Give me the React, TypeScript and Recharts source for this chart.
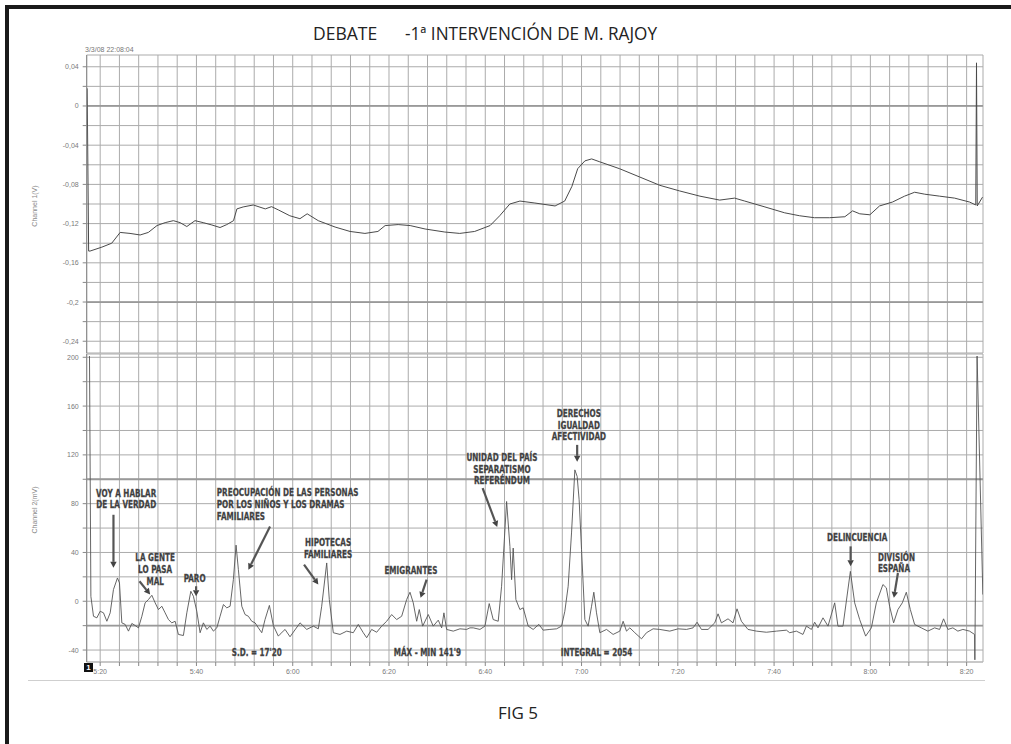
import React from 'react';
import { LineChart, Line, XAxis, YAxis, CartesianGrid, ReferenceLine, ReferenceDot } from 'recharts';

// ---------- DATA ----------
// time in seconds (5:20 = 320 s)
const ch1Time = [317.3, 317.6, 317.9, 320.35, 322.4, 324.15, 326.2, 328.3, 330.0, 331.8, 333.5, 335.2, 336.6, 338.0, 339.7, 341.4, 343.2, 344.9, 346.3, 347.7, 348.4, 349.7, 351.8, 354.3, 355.6, 357.0, 359.4, 361.5, 363.0, 365.3, 368.8, 371.9, 375.0, 377.7, 379.2, 381.9, 384.4, 387.5, 391.6, 394.7, 397.8, 401.0, 403.0, 405.1, 407.2, 410.3, 414.5, 416.5, 418.0, 419.2, 420.7, 422.1, 423.8, 427.9, 432.1, 436.3, 440.4, 444.6, 448.7, 451.8, 453.9, 458.1, 462.2, 465.3, 468.4, 471.5, 474.7, 476.3, 477.8, 479.9, 481.9, 484.6, 487.1, 489.2, 491.3, 494.4, 497.5, 500.6, 501.9, 502.05, 502.2, 503.3];
const ch1Volt = [0.018, -0.148, -0.148, -0.144, -0.14, -0.129, -0.13, -0.1316, -0.129, -0.122, -0.119, -0.117, -0.119, -0.123, -0.117, -0.119, -0.1214, -0.124, -0.121, -0.117, -0.105, -0.103, -0.101, -0.105, -0.1027, -0.106, -0.112, -0.115, -0.11, -0.117, -0.1235, -0.128, -0.13, -0.128, -0.122, -0.121, -0.122, -0.1255, -0.1286, -0.13, -0.128, -0.122, -0.112, -0.1, -0.097, -0.099, -0.102, -0.097, -0.082, -0.064, -0.056, -0.054, -0.057, -0.064, -0.0725, -0.081, -0.0867, -0.092, -0.096, -0.094, -0.097, -0.103, -0.109, -0.112, -0.114, -0.114, -0.113, -0.107, -0.11, -0.111, -0.102, -0.098, -0.092, -0.088, -0.09, -0.092, -0.094, -0.098, -0.101, 0.044, -0.102, -0.093];

const ch2Time = [317.78, 318.07, 318.61, 319.31, 320.0, 320.69, 321.39, 322.08, 322.76, 323.59, 324.01, 324.5, 325.19, 325.88, 326.58, 327.27, 327.95, 328.66, 329.34, 330.03, 330.73, 331.42, 332.1, 332.81, 333.49, 334.18, 334.88, 335.57, 336.25, 337.29, 338.0, 338.83, 339.37, 340.07, 340.76, 341.44, 342.15, 342.84, 343.52, 344.23, 344.91, 345.6, 346.3, 346.99, 347.67, 348.23, 348.71, 349.42, 350.1, 350.79, 351.49, 352.18, 352.86, 353.57, 354.25, 355.15, 355.98, 357.01, 357.37, 358.41, 359.44, 361.52, 362.91, 364.28, 365.32, 366.02, 367.06, 367.6, 368.43, 369.82, 371.22, 372.58, 373.62, 374.66, 375.36, 376.4, 377.44, 378.48, 379.52, 380.56, 381.59, 382.63, 383.67, 384.36, 385.04, 385.75, 386.29, 386.99, 388.16, 389.19, 390.23, 390.94, 391.41, 391.97, 393.35, 394.74, 396.13, 396.81, 397.5, 398.89, 399.93, 400.82, 401.65, 402.69, 403.39, 404.43, 405.12, 405.47, 405.8, 406.36, 407.19, 407.88, 408.92, 409.95, 411.14, 412.03, 413.42, 414.81, 415.85, 416.53, 417.22, 417.92, 418.61, 419.09, 419.5, 420.0, 420.69, 421.37, 422.08, 422.55, 423.11, 423.8, 425.19, 426.56, 427.95, 428.64, 429.34, 430.03, 431.07, 432.46, 433.49, 434.87, 436.26, 438.33, 440.06, 441.8, 443.17, 444.0, 444.91, 446.28, 447.67, 448.36, 449.06, 450.43, 451.47, 452.3, 453.21, 454.58, 456.33, 458.4, 460.48, 462.56, 463.24, 464.63, 466.0, 466.71, 467.75, 468.43, 469.12, 470.16, 471.2, 472.59, 473.27, 474.31, 475.85, 476.74, 477.78, 479.02, 480.21, 481.24, 482.61, 483.32, 484.0, 484.83, 485.73, 486.64, 487.47, 488.3, 489.19, 490.58, 491.95, 493.35, 494.38, 495.21, 496.11, 497.14, 498.18, 499.22, 500.61, 501.65, 501.71, 502.17, 503.37];
const ch2MilliVolt = [201, 4, -12.3, -13.6, -8.2, -9.5, -16.4, -9.5, 9.6, 19.1, 15, -17.7, -19, -24.5, -18.2, -19.9, -21.8, -12.3, -1.3, 1.4, 4.9, -1.3, -6.8, -4.1, -9.5, -15, -17.7, -16.4, -27.2, -28.1, -9.5, 8.2, 4.1, -8.2, -25.8, -17.7, -23.1, -20.4, -24.5, -21.8, -12.3, -2.7, -5.4, -4.1, 17.7, 46, 25.9, -4.1, -10.9, -12.3, -16.4, -17.7, -21.8, -25.8, -15, -3.4, -20, -28.6, -27, -23.1, -29.1, -17.7, -23.1, -20.4, -22.6, -4.1, 31.4, 1.4, -25.8, -27.2, -24.5, -25.8, -19, -25.8, -29.9, -23.1, -25.4, -20.4, -16.4, -10.9, -15, -12.3, 1.4, 7.4, -1.3, -16.4, -6.8, -20.4, -10.9, -20.4, -15.5, -21.8, -9.5, -23.1, -24.5, -22.6, -23.1, -21.8, -21.8, -23.1, -20.4, -1.9, -15, -16.4, 12.3, 81.8, 45, 17.7, 43.6, 1.4, -6.8, -5.4, -20.4, -23.1, -19, -23.7, -23.1, -22.6, -20.4, -8.2, 12.3, 56, 107.7, 102.3, 83.2, 42.3, -15, -20.4, -4.1, 7.4, -9.5, -25.8, -23.1, -27.2, -24.5, -16.4, -24.5, -21.8, -25.8, -30.8, -25.8, -22.6, -23.1, -24.5, -22.6, -23.1, -21.8, -17.2, -23.1, -23.1, -17.7, -10.3, -17.7, -14.4, -17.7, -6.2, -16.4, -23.1, -24.5, -25.4, -24.5, -23.7, -25.8, -24.5, -27.2, -20.4, -23.1, -17.2, -21.8, -13.6, -20.4, -1.3, -20.4, -20.4, 24.5, -1.3, -15, -28.6, -21.8, -1.3, 13.7, 11, -4.1, -17.7, -6.8, -1.3, 7.4, -6.8, -19, -21.8, -24.5, -21.8, -23.1, -14.4, -23.1, -21.8, -24.5, -23.1, -24.5, -27.2, -48, 201, 5.5];

const xMajorTicks = [320, 340, 360, 380, 400, 420, 440, 460, 480, 500];
const xMajorLabels = ['5:20', '5:40', '6:00', '6:20', '6:40', '7:00', '7:20', '7:40', '8:00', '8:20'];
const ch1Ticks = [0.04, 0.02, 0, -0.02, -0.04, -0.06, -0.08, -0.1, -0.12, -0.14, -0.16, -0.18, -0.2, -0.22, -0.24];
const ch1TickLabels = ['0,04', '', '0', '', '-0,04', '', '-0,08', '', '-0,12', '', '-0,16', '', '-0,2', '', '-0,24'];
const ch2Ticks = [200, 180, 160, 140, 120, 100, 80, 60, 40, 20, 0, -20, -40];
const ch2TickLabels = ['200', '', '160', '', '120', '', '80', '', '40', '', '0', '', '-40'];

type Ann = { t: number; v: number; lines: string[]; anchor: 'start' | 'middle' };
const annotations: Ann[] = [
  { t: 325.4, v: 88.9, lines: ['VOY A HABLAR', 'DE LA VERDAD'], anchor: 'middle' },
  { t: 331.42, v: 35.7, lines: ['LA GENTE', 'LO PASA', 'MAL'], anchor: 'middle' },
  { t: 339.62, v: 18.6, lines: ['PARO'], anchor: 'middle' },
  { t: 344.23, v: 89.2, lines: ['PREOCUPACIÓN DE LAS PERSONAS', 'POR LOS NIÑOS Y LOS DRAMAS', 'FAMILIARES'], anchor: 'start' },
  { t: 367.33, v: 48.3, lines: ['HIPOTECAS', 'FAMILIARES'], anchor: 'middle' },
  { t: 384.56, v: 25.4, lines: ['EMIGRANTES'], anchor: 'middle' },
  { t: 403.46, v: 118.1, lines: ['UNIDAD DEL PAÍS', 'SEPARATISMO', 'REFERÉNDUM'], anchor: 'middle' },
  { t: 419.44, v: 154.1, lines: ['DERECHOS', 'IGUALDAD', 'AFECTIVIDAD'], anchor: 'middle' },
  { t: 477.26, v: 52.7, lines: ['DELINCUENCIA'], anchor: 'middle' },
  { t: 481.57, v: 36.3, lines: ['DIVISIÓN', 'ESPAÑA'], anchor: 'start' },
  { t: 352.53, v: -41.4, lines: ["S.D. = 17'20"], anchor: 'middle' },
  { t: 387.99, v: -41.4, lines: ["MÁX - MIN 141'9"], anchor: 'middle' },
  { t: 423.11, v: -41.4, lines: ['INTEGRAL = 2054'], anchor: 'middle' },
];

const arrows = [
  { t1: 322.76, v1: 70.9, t2: 322.76, v2: 27.4 },
  { t1: 328.16, v1: 16.4, t2: 330.38, v2: 5.5 },
  { t1: 339.93, v1: 12.3, t2: 339.93, v2: 4.1 },
  { t1: 355.29, v1: 61.3, t2: 350.79, v2: 25.9 },
  { t1: 362.35, v1: 30, t2: 365.32, v2: 13.7 },
  { t1: 387.82, v1: 17.8, t2: 386.56, v2: 2.8 },
  { t1: 399.45, v1: 92.8, t2: 402.48, v2: 60.9 },
  { t1: 419.09, v1: 128.2, t2: 419.09, v2: 114.3 },
  { t1: 475.9, v1: 45, t2: 475.9, v2: 28.6 },
  { t1: 485.73, v1: 23.2, t2: 484.88, v2: 2.8 },
];

// ---------- BUILD ----------
const ch1Data = ch1Time.map((t, i) => ({ t, v: ch1Volt[i] }));
const ch2Data = ch2Time.map((t, i) => ({ t, v: ch2MilliVolt[i] }));
const xAllTicks: number[] = [];
for (let s = 320; s <= 500; s += 4) xAllTicks.push(s);
const xFmt = (v: number) => {
  const i = xMajorTicks.indexOf(v);
  return i >= 0 ? xMajorLabels[i] : '';
};
const ch1Fmt = (v: number) => {
  const i = ch1Ticks.findIndex((x) => Math.abs(x - v) < 1e-9);
  return i >= 0 ? ch1TickLabels[i] : '';
};
const ch2Fmt = (v: number) => {
  const i = ch2Ticks.indexOf(v);
  return i >= 0 ? ch2TickLabels[i] : '';
};

const X_DOMAIN: [number, number] = [317.2, 503.4];
const GRID = '#ababab';
const TICK = { fontSize: 7, fill: '#7a7a7a', fontFamily: "'Liberation Sans', Arial, sans-serif" };
const ANN_FONT = "'DejaVu Sans', sans-serif";

function AnnText(props: any) {
  const { cx, cy, lines, anchor } = props;
  return (
    <g transform={`translate(${cx},${cy}) scale(0.69,1)`}>
      <text x={0} y={0} textAnchor={anchor} fontFamily={ANN_FONT} fontSize={10.5} fontWeight={700}
        fill="#3a3a3a" stroke="#5a5a5a" strokeWidth={0.35}>
        {lines.map((l: string, i: number) => (
          <tspan key={i} x={0} dy={i === 0 ? '0.36em' : 11.7}>{l}</tspan>
        ))}
      </text>
    </g>
  );
}

function Arrow(p: any) {
  const { x1, y1, x2, y2 } = p;
  const a = Math.atan2(y2 - y1, x2 - x1);
  const L = 6, W = 3.2;
  const bx = x2 - L * Math.cos(a), by = y2 - L * Math.sin(a);
  const px = -Math.sin(a) * W, py = Math.cos(a) * W;
  return (
    <g>
      <line x1={x1} y1={y1} x2={bx} y2={by} stroke="#555" strokeWidth={2.2} />
      <polygon points={`${x2},${y2} ${bx + px},${by + py} ${bx - px},${by - py}`} fill="#444" />
    </g>
  );
}

export default function App() {
  return (
    <div style={{ position: 'absolute', left: 0, top: 0, width: 1011, height: 744, background: '#fff', overflow: 'hidden' }}>
      {/* frame */}
      <div style={{ position: 'absolute', left: 5, top: 5, width: 1006, height: 3.5, background: '#1a1a1a' }} />
      <div style={{ position: 'absolute', left: 5, top: 5, width: 3.5, height: 739, background: '#1a1a1a' }} />

      {/* channel 1 */}
      <div style={{ position: 'absolute', left: 0, top: 0 }}>
        <LineChart width={1011} height={360} data={ch1Data} margin={{ top: 55, right: 28, bottom: 7, left: 0 }}>
          <CartesianGrid stroke={GRID} strokeWidth={1} />
          <XAxis dataKey="t" type="number" domain={X_DOMAIN} allowDataOverflow ticks={xAllTicks} interval={0} hide />
          <YAxis type="number" domain={[-0.252, 0.052]} allowDataOverflow ticks={ch1Ticks} interval={0}
            tickFormatter={ch1Fmt} width={86.7} tickSize={4} tickMargin={4} tick={TICK}
            axisLine={{ stroke: '#888' }} tickLine={{ stroke: '#888' }} />
          <ReferenceLine y={0} stroke="#999" strokeWidth={1.8} />
          <ReferenceLine y={-0.2} stroke="#999" strokeWidth={1.8} />
          <Line dataKey="v" type="linear" stroke="#4a4a4a" strokeWidth={1} dot={false} isAnimationActive={false} />
        </LineChart>
      </div>

      <div style={{ position: 'absolute', left: 86, top: 353, width: 897, height: 1, background: '#cfcfcf' }} />

      {/* channel 2 */}
      <div style={{ position: 'absolute', left: 0, top: 350 }}>
        <LineChart width={1011} height={332} data={ch2Data} margin={{ top: 4, right: 28, bottom: 0, left: 0 }}>
          <CartesianGrid stroke={GRID} strokeWidth={1} />
          <XAxis dataKey="t" type="number" domain={X_DOMAIN} allowDataOverflow ticks={xAllTicks} interval={0}
            tickFormatter={xFmt} height={20} tickSize={4} tickMargin={3} tick={TICK}
            axisLine={{ stroke: '#bbb' }} tickLine={{ stroke: '#888' }} />
          <YAxis type="number" domain={[-49.8, 202.7]} allowDataOverflow ticks={ch2Ticks} interval={0}
            tickFormatter={ch2Fmt} width={86.7} tickSize={4} tickMargin={4} tick={TICK}
            axisLine={{ stroke: '#888' }} tickLine={{ stroke: '#888' }} />
          <ReferenceLine y={100} stroke="#999" strokeWidth={1.8} />
          <ReferenceLine y={-20} stroke="#999" strokeWidth={1.8} />
          <Line dataKey="v" type="linear" stroke="#555" strokeWidth={0.9} dot={false} isAnimationActive={false} />
          {arrows.map((a, i) => (
            <ReferenceLine key={'ar' + i} segment={[{ x: a.t1, y: a.v1 }, { x: a.t2, y: a.v2 }]} ifOverflow="visible"
              shape={(p: any) => <Arrow {...p} />} />
          ))}
          {annotations.map((a, i) => (
            <ReferenceDot key={'an' + i} x={a.t} y={a.v} r={0} ifOverflow="visible"
              shape={(p: any) => <AnnText cx={p.cx} cy={p.cy} lines={a.lines} anchor={a.anchor} />} />
          ))}
        </LineChart>
      </div>

      {/* texts overlay */}
      <svg width={1011} height={744} style={{ position: 'absolute', left: 0, top: 0, pointerEvents: 'none' }}>
        <text x={313} y={39.5} fontFamily="'Open Sans', sans-serif" fontSize={17.5} fill="#222">DEBATE</text>
        <text x={405} y={39.5} fontFamily="'Open Sans', sans-serif" fontSize={17.5} fill="#222" textLength={252} lengthAdjust="spacingAndGlyphs">-1ª INTERVENCIÓN DE M. RAJOY</text>
        <text x={85} y={52} fontFamily="'Liberation Sans', Arial, sans-serif" fontSize={7} fill="#777">3/3/08 22:08:04</text>
        <text x={34} y={206} transform="rotate(-90 34 206)" textAnchor="middle" dominantBaseline="central"
          fontFamily="'Liberation Sans', Arial, sans-serif" fontSize={7} fill="#888">Channel 1(V)</text>
        <text x={34} y={510} transform="rotate(-90 34 510)" textAnchor="middle" dominantBaseline="central"
          fontFamily="'Liberation Sans', Arial, sans-serif" fontSize={7} fill="#888">Channel 2(mV)</text>
        <line x1={28} y1={680.5} x2={985} y2={680.5} stroke="#cfcfcf" strokeWidth={1} />
        <text x={518} y={719} textAnchor="middle" fontFamily="'Open Sans', sans-serif" fontSize={17} fill="#222">FIG 5</text>
      </svg>
      <div style={{ position: 'absolute', left: 84, top: 663, width: 9, height: 9, background: '#111', color: '#fff',
        fontSize: 8, fontWeight: 700, lineHeight: '9px', textAlign: 'center', fontFamily: 'Arial, sans-serif' }}>1</div>
    </div>
  );
}
